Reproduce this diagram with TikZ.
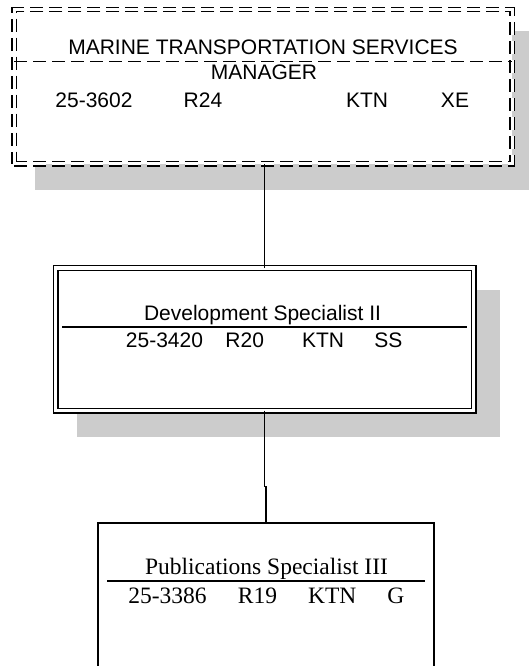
\documentclass[tikz,border=0pt]{standalone}
\usepackage{fontspec}
\setmainfont{Liberation Serif}
\newfontfamily\arialfont{Liberation Sans}
\usepackage{tikz}
\usetikzlibrary{calc}
\pgfdeclarelayer{bg}
\pgfsetlayers{bg,main}

\tikzset{
  posbox/.style={draw, fill=white, inner sep=0pt, outer sep=0pt, line width=1.5pt},
  mgrbox/.style={posbox, double, double distance=3pt, line width=1.4pt, dash pattern=on 13pt off 6pt},
  devbox/.style={posbox, double, double distance=3.2pt, line width=1.4pt},
  sanstext/.style={font=\arialfont\fontsize{21}{25}\selectfont, anchor=base, inner sep=0pt},
  seriftext/.style={font=\fontsize{23.5}{28}\selectfont, anchor=base, inner sep=0pt},
  shadowfill/.style={fill=black!20},
  link/.style={line width=1.7pt}
}

\begin{document}
\begin{tikzpicture}[x=1pt,y=-1pt]
    \clip (0,0) rectangle (528,666);

    % boxes
    \node [mgrbox, minimum width=498pt, minimum height=154pt] (mgr) at (263.25,86.6) {};
    \node [devbox, minimum width=418pt, minimum height=142.5pt] (dev) at (264.5,339.25) {};
    \node [posbox, anchor=north, minimum width=336pt, minimum height=200pt] (pub) at (266,523) {};

    % manager
    \node [sanstext] (mgrtitle) at (263,55) {MARINE TRANSPORTATION SERVICES};
    \node [sanstext] (mgrsub) at (264,80) {MANAGER};
    \node [sanstext] (mgrnum) at (94,107) {25-3602};
    \node [sanstext] (mgrrange) at (203,107) {R24};
    \node [sanstext] (mgrloc) at (367,107) {KTN};
    \node [sanstext] (mgrbu) at (455,107) {XE};
    \draw [line width=1.4pt, dash pattern=on 13pt off 6pt] (mgr.west |- 0,61.5) coordinate (mgrl) -- (mgr.east |- 0,61.5) coordinate (mgrr);

    % development specialist
    \node [sanstext] (devtitle) at (262.5,320) {Development Specialist II};
    \node [sanstext] (devnum) at (164.5,347) {25-3420};
    \node [sanstext] (devrange) at (244.7,347) {R20};
    \node [sanstext] (devloc) at (323,347) {KTN};
    \node [sanstext] (devbu) at (388.3,347) {SS};
    \coordinate (devl) at (62,327);
    \coordinate (devr) at (467,327);
    \draw [line width=1.5pt] (devl) -- (devr);

    % publications specialist
    \node [seriftext] (pubtitle) at (266.5,574) {Publications Specialist III};
    \node [seriftext] (pubnum) at (167.5,603) {25-3386};
    \node [seriftext] (pubrange) at (257.5,603) {R19};
    \node [seriftext] (publoc) at (332.3,603) {KTN};
    \node [seriftext] (pubbu) at (395.8,603) {G};
    \coordinate (publ) at (107,581);
    \coordinate (pubr) at (425,581);
    \draw [line width=1.5pt] (publ) -- (pubr);

    % connectors
    \draw [link] (dev.north) -- (dev.north |- mgr.south);
    \draw [link] (dev.south) -- ++(0,76) -| (pub.north);

    \begin{pgfonlayer}{bg}    % shadows
        \fill [shadowfill] ($(mgr.north west)+(21,21)$) rectangle ($(mgr.south east)+(26,26)$);
        \fill [shadowfill] ($(dev.north west)+(21.5,21.5)$) rectangle ($(dev.south east)+(26.5,26.5)$);
    \end{pgfonlayer}

\end{tikzpicture}
\end{document}
